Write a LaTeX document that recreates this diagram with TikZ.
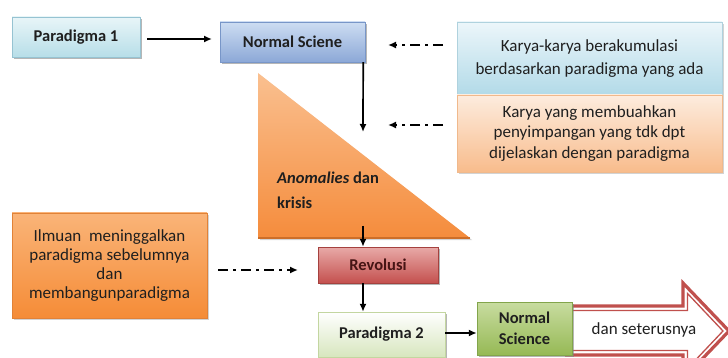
\documentclass[tikz,border=0pt]{standalone}
\usepackage{fontspec}
\setmainfont{Carlito}
\usetikzlibrary{arrows.meta,shadows}
\definecolor{txt}{HTML}{1F1F1F}
\definecolor{arrowred}{HTML}{C0504D}
\definecolor{triedge}{RGB}{205,110,40}
\tikzset{
  box/.style={draw, rectangle, inner sep=0pt, align=center, text=txt,
    font=\fontsize{17}{19}\selectfont,
    drop shadow={opacity=0.35, shadow xshift=2pt, shadow yshift=-2pt}},
  bbox/.style={box, font=\bfseries\fontsize{16.5}{20}\selectfont},
  conn/.style={-{Latex[length=8pt,width=7pt]}, line width=1.7pt, draw=black},
  dconn/.style={-{Latex[length=8pt,width=7pt]}, line width=2.2pt, draw=black,
    dash pattern=on 10pt off 5pt on 3pt off 5pt}
}
\begin{document}
\begin{tikzpicture}[x=1pt,y=-1pt]
\useasboundingbox (0,0) rectangle (728,358);

% big outlined arrow
\begin{scope}
\clip (0,0) rectangle (728,358);
\fill[white] (565,306) -- (683,306) -- (683,283) -- (729,331) -- (683,379) -- (683,355) -- (565,355) -- cycle;
\draw[arrowred, line width=3.2pt, line join=miter]
  (565,306) -- (683,306) -- (683,283) -- (729,331) -- (683,379) -- (683,355) -- (565,355);
\draw[arrowred, line width=1.3pt, line join=miter]
  (565,310.5) -- (687.5,310.5) -- (687.5,293.5) -- (723,331) -- (687.5,368.5) -- (687.5,350.5) -- (565,350.5);
\end{scope}
\node[text=txt, font=\fontsize{17}{19}\selectfont] (more) at (644,330) {dan seterusnya};

% triangle
\shade[drop shadow={opacity=0.35, shadow xshift=2pt, shadow yshift=-2pt},
  top color={rgb,255:red,250;green,192;blue,144}, bottom color={rgb,255:red,245;green,140;blue,60}]
  (258,73) -- (258,238) -- (470,238) -- cycle;
\draw[draw=triedge, line width=1.5pt] (258,238) -- (470,238);
\node[anchor=north west, align=left, text=txt, inner sep=0pt,
  font=\bfseries\fontsize{16.5}{25}\selectfont] (anom) at (277,172)
  {\textit{Anomalies} dan\\krisis};

% boxes
\node[box, bbox, minimum width=128, minimum height=40,
  top color={rgb,255:red,232;green,245;blue,248}, bottom color={rgb,255:red,183;green,222;blue,232},
  draw={rgb,255:red,150;green,195;blue,210}] (p1) at (76,37) {Paradigma 1};
\node[box, bbox, minimum width=145, minimum height=40,
  top color={rgb,255:red,205;green,221;blue,242}, bottom color={rgb,255:red,140;green,168;blue,215},
  draw={rgb,255:red,120;green,150;blue,200}] (ns1) at (292.5,42) {Normal Sciene};

\node[box, minimum width=265, minimum height=73, font=\fontsize{17}{23}\selectfont,
  top color={rgb,255:red,236;green,246;blue,250}, bottom color={rgb,255:red,178;green,218;blue,232},
  draw={rgb,255:red,175;green,210;blue,222}] (k1) at (589.5,58.5)
  {Karya-karya berakumulasi\\berdasarkan paradigma yang ada};
\node[box, minimum width=265, minimum height=77, font=\fontsize{17}{20.5}\selectfont,
  top color={rgb,255:red,253;green,236;blue,222}, bottom color={rgb,255:red,248;green,188;blue,140},
  draw={rgb,255:red,240;green,185;blue,140}] (k2) at (589.5,133.5)
  {Karya yang membuahkan\\penyimpangan yang tdk dpt\\dijelaskan dengan paradigma};

\node[box, minimum width=195, minimum height=105, font=\fontsize{17}{19}\selectfont,
  top color={rgb,255:red,250;green,180;blue,120}, bottom color={rgb,255:red,245;green,140;blue,55},
  draw={rgb,255:red,225;green,130;blue,55}] (ilm) at (109.5,265.5)
  {Ilmuan\ \ meninggalkan\\paradigma sebelumnya\\dan\\membangunparadigma};

\node[box, bbox, minimum width=120, minimum height=36, text={rgb,255:red,70;green,20;blue,20},
  top color={rgb,255:red,232;green,170;blue,168}, bottom color={rgb,255:red,196;green,80;blue,78},
  draw={rgb,255:red,165;green,65;blue,62}] (rev) at (378,265) {Revolusi};

\node[box, bbox, minimum width=127, minimum height=45,
  top color=white, bottom color={rgb,255:red,215;green,230;blue,190},
  draw={rgb,255:red,195;green,214;blue,160}] (p2) at (381.5,334.5) {Paradigma 2};

\node[box, bbox, minimum width=95, minimum height=53, font=\bfseries\fontsize{16.5}{21}\selectfont,
  top color={rgb,255:red,200;green,220;blue,160}, bottom color={rgb,255:red,150;green,185;blue,85},
  draw={rgb,255:red,130;green,165;blue,75}] (ns2) at (524.5,328.5) {Normal\\Science};

% connectors
\coordinate (p1out) at (147,39);
\coordinate (ns1in) at (212,39);
\coordinate (nsdown) at (363,132);
\coordinate (tri) at (363,226);
\coordinate (d1s) at (443,45);
\coordinate (d1e) at (388,45);
\coordinate (d2s) at (443,125);
\coordinate (d2e) at (388,125);
\coordinate (d3s) at (218,270);
\coordinate (d3e) at (298,270);

\draw[conn] (p1out) -- (ns1in);
\draw[conn] (ns1.south east) ++(-2,0) -- (nsdown);
\draw[conn] (tri) -- (rev.north -| tri);
\draw[conn] (rev.south -| tri) -- (p2.north -| tri);
\draw[conn] ([yshift=1.5pt]p2.east) -- ([yshift=1.5pt]p2.east -| ns2.west);
\draw[dconn] (d1s) -- (d1e);
\draw[dconn] (d2s) -- (d2e);
\draw[dconn] (d3s) -- (d3e);
\end{tikzpicture}
\end{document}
